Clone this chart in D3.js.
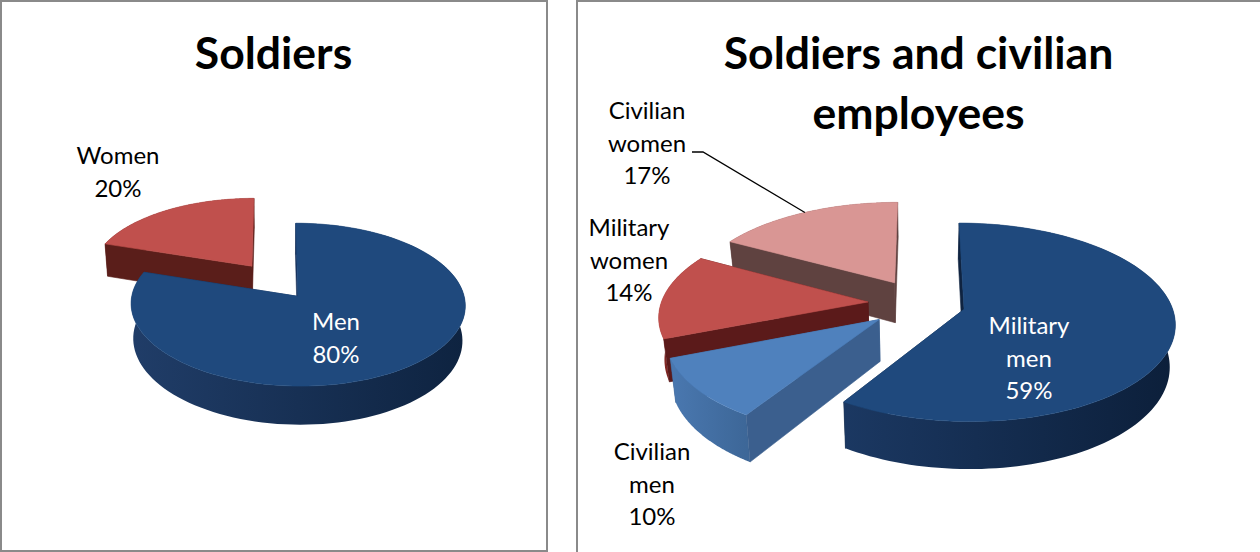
<!DOCTYPE html>
<html>
<head>
<meta charset="utf-8">
<script src="https://cdn.jsdelivr.net/npm/d3@7"></script>
<style>
    html, body { margin: 0; padding: 0; background: #fff; }
    svg { display: block; }
    text { font-family: Lato, "Open Sans", sans-serif; }
</style>
</head>
<body>
<svg id="chart" width="1260" height="552"></svg>
<script>
"use strict";

// values
const soldierLabels = [["Men", "80%"], ["Women", "20%"]];
const soldierValues = [80, 20];

const allLabels = [
    ["Military", "men", "59%"],
    ["Civilian", "men", "10%"],
    ["Military", "women", "14%"],
    ["Civilian", "women", "17%"]
];
const allValues = [59, 10, 14, 17];

// fake 3d pie look: one settings block per panel
const leftPie = {
    id: "l", cx: 274.5, cy: 281, rx: 163, ry: 77.5, persp: 0.10, depth: 34, shrink: 0.015,
    explode: [0.24, 0.24],
    order: [1, 0],
    top: ["#1f497d", "#c0504d"],
    wall: ["#17305a", "#5a1e1a"],
    rim: [["#203d68", "#0e2340"], ["#5a1e1a", "#5a1e1a"]],
    labelPos: [[336, 322], [118, 156]],
    labelFill: ["#fff", "#000"]
};
const rightPie = {
    id: "r", cx: 921, cy: 303.5, rx: 207, ry: 96, persp: 0.13, depth: 41, shrink: 0.022,
    explode: [0.215, 0.257, 0.257, 0.257],
    order: [3, 2, 1, 0],
    top: ["#1f497d", "#4f81bd", "#c0504d", "#d99694"],
    wall: ["#0f2340", "#3b5f8e", "#5b1a1a", "#5f4240"],
    rim: [["#1b3862", "#0c1f3a"], ["#4a78b0", "#3d6798"], ["#8a2a26", "#5b1a1a"], ["#5f4240", "#5f4240"]],
    labelPos: [[1029, 326], [652, 452], [629, 228], [647, 111]],
    labelFill: ["#fff", "#000", "#000", "#000"]
};

const svg = d3.select("#chart");
const defs = svg.append("defs");

// panel frames
svg.append("rect").attr("x", 1).attr("y", 1).attr("width", 546).attr("height", 550)
    .attr("fill", "#fff").attr("stroke", "#8a8a8a").attr("stroke-width", 2);
svg.append("rect").attr("x", 577).attr("y", 1).attr("width", 690).attr("height", 560)
    .attr("fill", "#fff").attr("stroke", "#8a8a8a").attr("stroke-width", 2);

// ux, uy are on the pie plane (uy positive = toward viewer), z goes down
function projector(cfg) {
    return function(ux, uy, z) {
        const w = 1 / (1 - cfg.persp * uy);
        return [
            cfg.cx + cfg.rx * ux * w * (1 - cfg.shrink * z),
            cfg.cy + cfg.ry * uy * w + cfg.depth * z * w
        ];
    };
}

function drawPie(values, labels, cfg) {
    const project = projector(cfg);
    const slices = d3.pie().sort(null)(values);
    const line = d3.line();
    const g = svg.append("g");

    const flat = (pts, fill) => g.append("path").attr("d", line(pts) + "Z")
        .attr("fill", fill).attr("stroke", fill).attr("stroke-width", 0.6);

    cfg.order.forEach(i => {
        const s = slices[i];
        const mid = (s.startAngle + s.endAngle) / 2;
        const ox = Math.sin(mid) * cfg.explode[i];
        const oy = -Math.cos(mid) * cfg.explode[i];
        const rimPt = (a, z) => project(ox + Math.sin(a), oy - Math.cos(a), z);
        const apex = z => project(ox, oy, z);
        const angles = d3.range(0, 121).map(n => s.startAngle + (s.endAngle - s.startAngle) * n / 120);

        // a cut face shows only if the top of the slice lies above its edge
        const faces = [s.startAngle, s.endAngle].map(a => {
            const p0 = apex(0), p1 = rimPt(a, 0), q = rimPt(mid, 0);
            const edgeY = p0[1] + (p1[1] - p0[1]) * (q[0] - p0[0]) / (p1[0] - p0[0]);
            return {a, front: q[1] < edgeY};
        });
        const drawFace = f => flat([apex(0), rimPt(f.a, 0), rimPt(f.a, 1), apex(1)], cfg.wall[i]);

        faces.filter(f => !f.front).forEach(drawFace);

        // outer rim, one path, shaded left to right
        const rimTop = angles.map(a => rimPt(a, 0));
        const rimBottom = angles.map(a => rimPt(a, 1)).reverse();
        const xExtent = d3.extent(rimTop, d => d[0]);
        const gradId = "rim-" + cfg.id + i;
        const grad = defs.append("linearGradient").attr("id", gradId)
            .attr("gradientUnits", "userSpaceOnUse")
            .attr("x1", xExtent[0]).attr("x2", xExtent[1]).attr("y1", 0).attr("y2", 0);
        grad.append("stop").attr("offset", 0).attr("stop-color", cfg.rim[i][0]);
        grad.append("stop").attr("offset", 1).attr("stop-color", cfg.rim[i][1]);
        g.append("path").attr("d", line([...rimTop, ...rimBottom]) + "Z")
            .attr("fill", `url(#${gradId})`);

        faces.filter(f => f.front).forEach(drawFace);

        flat([apex(0), ...rimTop], cfg.top[i]);
    });

    // labels
    labels.forEach((rows, i) => {
        const t = svg.append("text")
            .attr("text-anchor", "middle")
            .attr("font-size", 24)
            .attr("fill", cfg.labelFill[i]);
        rows.forEach((row, r) => {
            t.append("tspan")
                .attr("x", cfg.labelPos[i][0])
                .attr("y", cfg.labelPos[i][1] + r * 32.5 + 8)
                .text(row);
        });
    });

    return {slices, project};
}

drawPie(soldierValues, soldierLabels, leftPie);
const right = drawPie(allValues, allLabels, rightPie);

// leader line for the civilian women label, ends on the rim of its slice
const cw = right.slices[3];
const cwMid = (cw.startAngle + cw.endAngle) / 2;
const cwEx = rightPie.explode[3];
const leaderEnd = right.project(Math.sin(cwMid) * (1 + cwEx), -Math.cos(cwMid) * (1 + cwEx), 0);
svg.append("path")
    .attr("d", d3.line()([[692, 152], [703, 152], leaderEnd]))
    .attr("fill", "none").attr("stroke", "#000").attr("stroke-width", 1.3);

// titles
function title(x, y, rows) {
    const t = svg.append("text")
        .attr("text-anchor", "middle")
        .attr("font-size", 44.5)
        .attr("font-weight", "bold")
        .attr("fill", "#000");
    rows.forEach((row, r) => {
        t.append("tspan").attr("x", x).attr("y", y + r * 60).text(row);
    });
}
title(273.5, 69, ["Soldiers"]);
title(918.5, 69, ["Soldiers and civilian", "employees"]);
</script>
</body>
</html>
